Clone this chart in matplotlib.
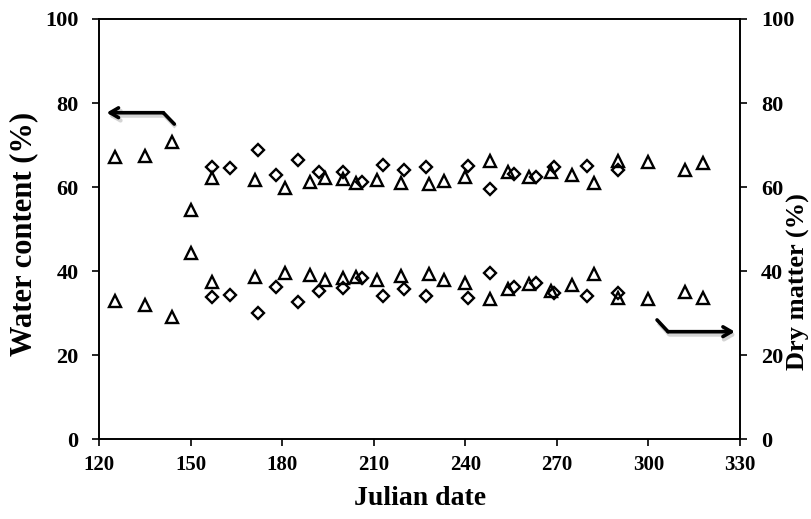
import matplotlib
matplotlib.use("Agg")
import matplotlib.pyplot as plt

plt.rcParams['font.family'] = ['Liberation Serif', 'DejaVu Serif']
plt.rcParams['font.weight'] = 'bold'

# Triangle series (Julian date, water content %, dry matter %)
tri_days = [125, 135, 144, 150, 157, 171, 181, 189, 194, 200, 204, 211, 219, 228,
            233, 240, 248, 254, 261, 268, 275, 282, 290, 300, 312, 318]
tri_water = [67.2, 67.5, 70.8, 54.6, 62.1, 61.7, 59.9, 61.1, 62.1, 61.9, 60.9, 61.7, 60.9, 60.7,
             61.5, 62.3, 66.3, 63.7, 62.3, 63.7, 62.9, 60.9, 66.1, 65.9, 64.1, 65.8]
tri_dry = [33.0, 32.0, 29.2, 44.4, 37.4, 38.5, 39.6, 39.1, 37.9, 38.4, 38.7, 37.9, 38.9, 39.3,
           37.9, 37.3, 33.3, 35.7, 36.9, 35.4, 36.7, 39.3, 33.5, 33.4, 35.1, 33.5]

# Diamond series
dia_days = [157, 163, 172, 178, 185, 192, 200, 206, 213, 220, 227, 241, 248, 256, 263, 269, 280, 290]
dia_water = [64.9, 64.5, 68.8, 62.9, 66.5, 63.7, 63.5, 61.1, 65.3, 64.1, 64.9, 65.0, 59.6, 63.1,
             62.3, 64.7, 65.0, 64.1]
dia_dry = [33.9, 34.3, 30.1, 36.3, 32.7, 35.3, 36.0, 38.3, 34.2, 35.7, 34.2, 33.5, 39.6, 36.3,
           37.1, 34.9, 34.2, 34.7]

x_ticks = [120, 150, 180, 210, 240, 270, 300, 330]
y_ticks = [0, 20, 40, 60, 80, 100]

# Arrow paths (data coordinates): start -> corner -> tip
left_arrow_x = [144.6, 141.0, 122.4]
left_arrow_y = [75.0, 77.7, 77.7]
right_arrow_x = [302.8, 306.4, 328.3]
right_arrow_y = [28.4, 25.6, 25.6]

fig = plt.figure(figsize=(8.11, 5.19), dpi=100)
ax = fig.add_axes([0.1224, 0.1536, 0.9125 - 0.1224, 0.9634 - 0.1536])
ax2 = ax.twinx()

tri_kw = dict(linestyle='none', marker='^', markersize=8.2, markerfacecolor='none',
              markeredgecolor='black', markeredgewidth=1.7)
dia_kw = dict(linestyle='none', marker='D', markersize=6.2, markerfacecolor='none',
              markeredgecolor='black', markeredgewidth=1.7)

ax.plot(tri_days, tri_water, **tri_kw)
ax.plot(dia_days, dia_water, **dia_kw)
ax2.plot(tri_days, tri_dry, **tri_kw)
ax2.plot(dia_days, dia_dry, **dia_kw)

for a in (ax, ax2):
    a.set_xlim(120, 330)
    a.set_ylim(0, 100)
    a.set_yticks(y_ticks)
    for s in a.spines.values():
        s.set_linewidth(1.2)

ax.set_xticks(x_ticks)
ax.tick_params(axis='x', direction='out', length=5, width=1.2, labelsize=15, pad=6)
ax.tick_params(axis='y', direction='out', length=5, width=1.2, labelsize=16, pad=10)
ax2.tick_params(axis='y', direction='out', length=5, width=1.2, labelsize=16, pad=10)
for lab in ax.get_xticklabels() + ax.get_yticklabels() + ax2.get_yticklabels():
    lab.set_fontweight('bold')

ax.set_xlabel('Julian date', fontsize=20, fontweight='bold')
ax.xaxis.set_label_coords(0.5, -0.11)

ax.set_ylabel('Water content (%)', fontsize=22, fontweight='bold')
ax.yaxis.label.set_ha('center')
ax.yaxis.label.set_va('center')
ax.yaxis.set_label_coords(-0.1175, 0.488)

ax2.set_ylabel('Dry matter (%)', fontsize=19, fontweight='bold')
ax2.yaxis.label.set_ha('center')
ax2.yaxis.label.set_va('center')
ax2.yaxis.set_label_coords(1.0905, 0.375)

# Arrows with a soft shadow
for xs, ys in ((left_arrow_x, left_arrow_y), (right_arrow_x, right_arrow_y)):
    ax.annotate('', xy=(xs[2] + 0.5, ys[2] - 0.7), xytext=(xs[1] + 0.5, ys[1] - 0.7),
                arrowprops=dict(arrowstyle='->,head_length=0.6,head_width=0.35', color='#d4d4d4',
                                lw=3.0, shrinkA=0, shrinkB=0), zorder=4)
    ax.plot([xs[0] + 0.5, xs[1] + 0.5], [ys[0] - 0.7, ys[1] - 0.7], color='#d4d4d4', lw=3.0,
            solid_capstyle='butt', zorder=4)
    ax.annotate('', xy=(xs[2], ys[2]), xytext=(xs[1], ys[1]),
                arrowprops=dict(arrowstyle='->,head_length=0.6,head_width=0.35', color='black',
                                lw=2.6, shrinkA=0, shrinkB=0), zorder=5)
    ax.plot([xs[0], xs[1]], [ys[0], ys[1]], color='black', lw=2.6, solid_capstyle='round', zorder=5)

fig.savefig('out.png', dpi=100)
